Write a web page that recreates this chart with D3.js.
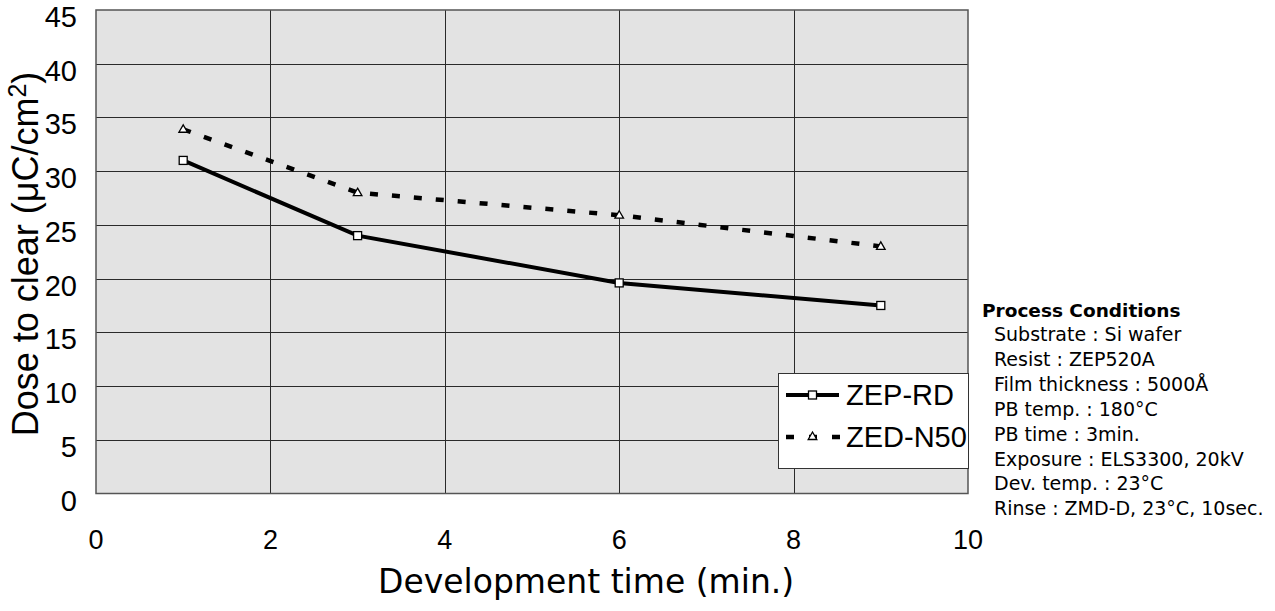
<!DOCTYPE html>
<html>
<head>
<meta charset="utf-8">
<script src="https://cdn.jsdelivr.net/npm/d3@7"></script>
<style>
  body { margin: 0; background: #fff; }
  svg { display: block; }
</style>
</head>
<body>
<div id="container"></div>
<script>
// data
var times = [1, 3, 6, 9];
var zepRD = [31.0, 24.0, 19.6, 17.5];
var zedN50 = [33.9, 28.0, 25.9, 23.0];
var xTicks = [0, 2, 4, 6, 8, 10];
var yTicks = [0, 5, 10, 15, 20, 25, 30, 35, 40, 45];
var seriesNames = ["ZEP-RD", "ZED-N50"];
var conditions = ["Substrate : Si wafer",
                  "Resist : ZEP520A",
                  "Film thickness : 5000Å",
                  "PB temp. : 180°C",
                  "PB time : 3min.",
                  "Exposure : ELS3300, 20kV",
                  "Dev. temp. : 23°C",
                  "Rinse : ZMD-D, 23°C, 10sec."];

var svg = d3.select("#container").append("svg")
            .attr("width", 1275).attr("height", 611);

var plotL = 96, plotR = 968, plotT = 10, plotB = 493.5;
var x = d3.scaleLinear().domain([0, 10]).range([plotL, plotR]);
var y = d3.scaleLinear().domain([0, 45]).range([plotB, plotT]);

// plot background
svg.append("rect")
   .attr("x", plotL).attr("y", plotT)
   .attr("width", plotR - plotL).attr("height", plotB - plotT)
   .attr("fill", "#e3e3e3");

// grid
var grid = svg.append("g").attr("stroke", "#2a2a2a").attr("stroke-width", 1);
grid.selectAll("line.gx").data(xTicks.slice(1, -1)).enter().append("line")
    .attr("x1", function(d){ return Math.round(x(d)) + 0.5; })
    .attr("x2", function(d){ return Math.round(x(d)) + 0.5; })
    .attr("y1", plotT).attr("y2", plotB);
grid.selectAll("line.gy").data(yTicks.slice(1, -1)).enter().append("line")
    .attr("y1", function(d){ return Math.round(y(d)) + 0.5; })
    .attr("y2", function(d){ return Math.round(y(d)) + 0.5; })
    .attr("x1", plotL).attr("x2", plotR);

// border
svg.append("rect")
   .attr("x", plotL).attr("y", plotT)
   .attr("width", plotR - plotL).attr("height", plotB - plotT)
   .attr("fill", "none").attr("stroke", "#555").attr("stroke-width", 1.5);

// y tick labels
svg.append("g").selectAll("text").data(yTicks).enter().append("text")
   .attr("x", 77)
   .attr("y", function(d){ return y(d) + 7; })
   .attr("text-anchor", "end")
   .attr("dominant-baseline", "central")
   .attr("font-family", "Liberation Sans, Arial, sans-serif")
   .attr("font-size", 29)
   .text(function(d){ return d; });

// x tick labels
svg.append("g").selectAll("text").data(xTicks).enter().append("text")
   .attr("x", function(d){ return x(d); })
   .attr("y", 540)
   .attr("text-anchor", "middle")
   .attr("dominant-baseline", "central")
   .attr("font-family", "Liberation Sans, Arial, sans-serif")
   .attr("font-size", 27)
   .text(function(d){ return d; });

// axis titles
svg.append("text")
   .attr("x", 378).attr("y", 593)
   .attr("font-family", "DejaVu Sans, Verdana, sans-serif")
   .attr("font-size", 33)
   .text("Development time (min.)");

var yTitle = svg.append("text")
   .attr("transform", "translate(38,254) rotate(-90)")
   .attr("text-anchor", "middle")
   .attr("font-family", "Liberation Sans, Arial, sans-serif")
   .attr("font-size", 36);
yTitle.append("tspan").text("Dose to clear (μC/cm");
yTitle.append("tspan").attr("font-size", 25).attr("dy", -12).text("2");
yTitle.append("tspan").attr("dy", 12).text(")");

// lines
var line = d3.line()
             .x(function(d){ return x(d[0]); })
             .y(function(d){ return y(d[1]); });

var zepPts = times.map(function(t, i){ return [t, zepRD[i]]; });
var zedPts = times.map(function(t, i){ return [t, zedN50[i]]; });

svg.append("path").attr("d", line(zedPts))
   .attr("fill", "none").attr("stroke", "#000")
   .attr("stroke-width", 4.5).attr("stroke-dasharray", "8,14");
svg.append("path").attr("d", line(zepPts))
   .attr("fill", "none").attr("stroke", "#000")
   .attr("stroke-width", 4);

var tri = d3.symbol().type(d3.symbolTriangle).size(32);

svg.append("g").selectAll("rect").data(zepPts).enter().append("rect")
   .attr("x", function(d){ return x(d[0]) - 4; })
   .attr("y", function(d){ return y(d[1]) - 4; })
   .attr("width", 8).attr("height", 8)
   .attr("fill", "#fff").attr("stroke", "#000").attr("stroke-width", 1.3);

svg.append("g").selectAll("path").data(zedPts).enter().append("path")
   .attr("d", tri)
   .attr("transform", function(d){ return "translate(" + x(d[0]) + "," + (y(d[1]) + 0.5) + ")"; })
   .attr("fill", "#fff").attr("stroke", "#000").attr("stroke-width", 1.3);

// legend
var lg = svg.append("g");
lg.append("rect")
  .attr("x", 778.5).attr("y", 373.5).attr("width", 190).attr("height", 95)
  .attr("fill", "#fff").attr("stroke", "#333").attr("stroke-width", 1);

lg.append("line").attr("x1", 786).attr("x2", 839).attr("y1", 395).attr("y2", 395)
  .attr("stroke", "#000").attr("stroke-width", 4);
lg.append("rect").attr("x", 808.5).attr("y", 391).attr("width", 8).attr("height", 8)
  .attr("fill", "#fff").attr("stroke", "#000").attr("stroke-width", 1.3);

lg.append("line").attr("x1", 786).attr("x2", 841).attr("y1", 437).attr("y2", 437)
  .attr("stroke", "#000").attr("stroke-width", 4.5).attr("stroke-dasharray", "8,15");
lg.append("path").attr("d", tri).attr("transform", "translate(812.5,437)")
  .attr("fill", "#fff").attr("stroke", "#000").attr("stroke-width", 1.3);

lg.selectAll("text").data(seriesNames).enter().append("text")
  .attr("x", 846)
  .attr("y", function(d, i){ return 395 + i * 42; })
  .attr("dominant-baseline", "central")
  .attr("font-family", "Liberation Sans, Arial, sans-serif")
  .attr("font-size", 29)
  .text(function(d){ return d; });

// process conditions
var pc = svg.append("g")
            .attr("font-family", "DejaVu Sans, Verdana, sans-serif")
            .attr("font-size", 19);
pc.append("text").attr("x", 982).attr("y", 317)
  .attr("font-weight", "bold").attr("font-size", 18.5).text("Process Conditions");
pc.selectAll("text.c").data(conditions).enter().append("text")
  .attr("x", 994)
  .attr("y", function(d, i){ return 341 + i * 24.9; })
  .text(function(d){ return d; });
</script>
</body>
</html>
